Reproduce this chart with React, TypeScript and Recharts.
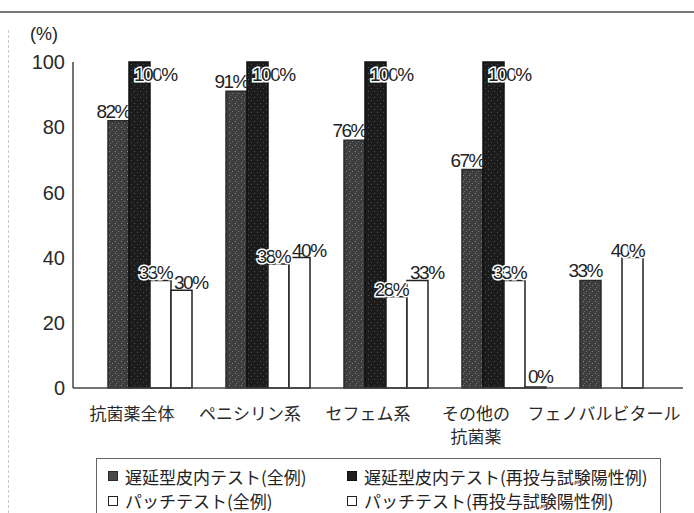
import { BarChart, Bar, XAxis, YAxis, Legend, LabelList } from "recharts";

const CATEGORIES = ["抗菌薬全体", "ペニシリン系", "セフェム系", "その他の\n抗菌薬", "フェノバルビタール"];
const IDT_ALL = [82, 91, 76, 67, 33];
const IDT_POSITIVE = [100, 100, 100, 100, null];
const PATCH_ALL = [33, 38, 28, 33, 40];
const PATCH_POSITIVE = [30, 40, 33, 0, null];
const Y_TICKS = [0, 20, 40, 60, 80, 100];

const SERIES = [
  { key: "idtAll", name: "遅延型皮内テスト(全例)", fill: "url(#speckGray)", swatch: "#4a4a4a", stroke: "#2a2a2a" },
  { key: "idtPos", name: "遅延型皮内テスト(再投与試験陽性例)", fill: "url(#speckBlack)", swatch: "#1e1e1e", stroke: "#111" },
  { key: "patchAll", name: "パッチテスト(全例)", fill: "#ffffff", swatch: "#ffffff", stroke: "#222" },
  { key: "patchPos", name: "パッチテスト(再投与試験陽性例)", fill: "#ffffff", swatch: "#ffffff", stroke: "#222" },
];

const data = CATEGORIES.map((name, i) => ({
  name,
  idtAll: IDT_ALL[i],
  idtPos: IDT_POSITIVE[i],
  patchAll: PATCH_ALL[i],
  patchPos: PATCH_POSITIVE[i],
}));

const NUM_FONT = "'Liberation Sans', Arial, sans-serif";
const JP_FONT = "'Noto Sans CJK JP', 'Noto Sans', sans-serif";

// where each series puts its value label relative to its bar
function makeLabel(key: string) {
  return (props: any) => {
    const { x, y, width, value } = props;
    if (value == null) return null;
    const cx = x + width / 2;
    let tx = cx;
    let ty = y - 2;
    let anchor: "start" | "middle" | "end" = "middle";
    let halo = false;
    if (key === "idtAll") {
      tx = x + width + 1;
      ty = y - 3;
      anchor = "end";
    } else if (key === "idtPos") {
      tx = x + 5;
      ty = y + 19;
      anchor = "start";
      halo = true;
    } else if (key === "patchAll") {
      tx = cx - 5;
      ty = y - 1;
      halo = true;
    } else {
      tx = x + 3;
      ty = value === 0 ? y - 4 : y - 1;
      anchor = "start";
    }
    return (
      <text
        x={tx}
        y={ty}
        textAnchor={anchor}
        fontSize={19}
        letterSpacing={-1.5}
        fontFamily={NUM_FONT}
        fill="#222"
        stroke={halo ? "#fff" : "none"}
        strokeWidth={halo ? 3 : 0}
        paintOrder="stroke"
      >
        {value}%
      </text>
    );
  };
}

function CategoryTick({ x, y, payload }: any) {
  const lines = String(payload.value).split("\n");
  const dx = lines.length > 1 ? -28 : -18;
  return (
    <g>
      {lines.map((line, i) => (
        <text
          key={i}
          x={x + dx}
          y={y + 24 + i * 23}
          textAnchor="middle"
          fontSize={17}
          fontFamily={JP_FONT}
          fill="#2a2a2a"
        >
          {line}
        </text>
      ))}
    </g>
  );
}

function LegendBox() {
  return (
    <div
      style={{
        boxSizing: "border-box",
        width: 565,
        height: 55,
        border: "1.5px solid #666",
        borderBottom: "none",
        paddingLeft: 11,
        paddingTop: 5,
        display: "grid",
        gridTemplateColumns: "239px 1fr",
        lineHeight: "23px",
        fontSize: 17,
        fontFamily: JP_FONT,
        color: "#222",
      }}
    >
      {SERIES.map((s) => (
        <div key={s.key} style={{ display: "flex", alignItems: "center", whiteSpace: "nowrap" }}>
          <span
            style={{
              display: "inline-block",
              width: 8,
              height: 8,
              background: s.swatch,
              border: `1px solid ${s.stroke}`,
              marginRight: 7,
            }}
          />
          {s.name}
        </div>
      ))}
    </div>
  );
}

export default function App() {
  return (
    <div style={{ position: "absolute", left: 0, top: 0, width: 694, height: 513, background: "#fff", overflow: "hidden" }}>
      <div style={{ position: "absolute", left: 0, top: 11, width: 694, borderTop: "2px solid #777" }} />
      <div style={{ position: "absolute", left: 8, top: 30, height: 483, borderLeft: "1px dashed #c8c8c8" }} />
      <BarChart
        width={694}
        height={513}
        data={data}
        margin={{ top: 62, right: 11, bottom: 65, left: 0 }}
        barSize={21}
        barGap={0}
      >
        <defs>
          <pattern id="speckGray" width="6" height="6" patternUnits="userSpaceOnUse">
            <rect width="6" height="6" fill="#3e3e3e" />
            <rect x="1" y="1" width="1" height="1" fill="#8a8a8a" />
            <rect x="4" y="3" width="1" height="1" fill="#777" />
            <rect x="2" y="5" width="1" height="1" fill="#6a6a6a" />
          </pattern>
          <pattern id="speckBlack" width="6" height="6" patternUnits="userSpaceOnUse">
            <rect width="6" height="6" fill="#1c1c1c" />
            <rect x="2" y="1" width="1" height="1" fill="#555" />
            <rect x="5" y="4" width="1" height="1" fill="#4a4a4a" />
          </pattern>
        </defs>
        <XAxis
          dataKey="name"
          interval={0}
          height={60}
          padding={{ left: 18, right: 2 }}
          tickLine={false}
          axisLine={{ stroke: "#444", strokeWidth: 1.5 }}
          tick={<CategoryTick />}
        />
        <YAxis
          width={73}
          domain={[0, 100]}
          ticks={Y_TICKS}
          interval={0}
          tickLine={false}
          axisLine={{ stroke: "#444", strokeWidth: 1.5 }}
          tick={{ fill: "#2a2a2a", fontSize: 20, fontFamily: NUM_FONT }}
          label={{
            content: () => (
              <text x={30} y={40} fontSize={18} fontFamily={NUM_FONT} fill="#222">
                (%)
              </text>
            ),
          }}
        />
        <Legend
          layout="vertical"
          verticalAlign="middle"
          align="center"
          wrapperStyle={{ top: 458, left: 96, width: 565, height: 55 }}
          content={() => <LegendBox />}
        />
        {SERIES.map((s) => (
          <Bar
            key={s.key}
            dataKey={s.key}
            name={s.name}
            fill={s.fill}
            stroke={s.stroke}
            strokeWidth={1.5}
            minPointSize={1}
            isAnimationActive={false}
          >
            <LabelList dataKey={s.key} content={makeLabel(s.key)} />
          </Bar>
        ))}
      </BarChart>
    </div>
  );
}
